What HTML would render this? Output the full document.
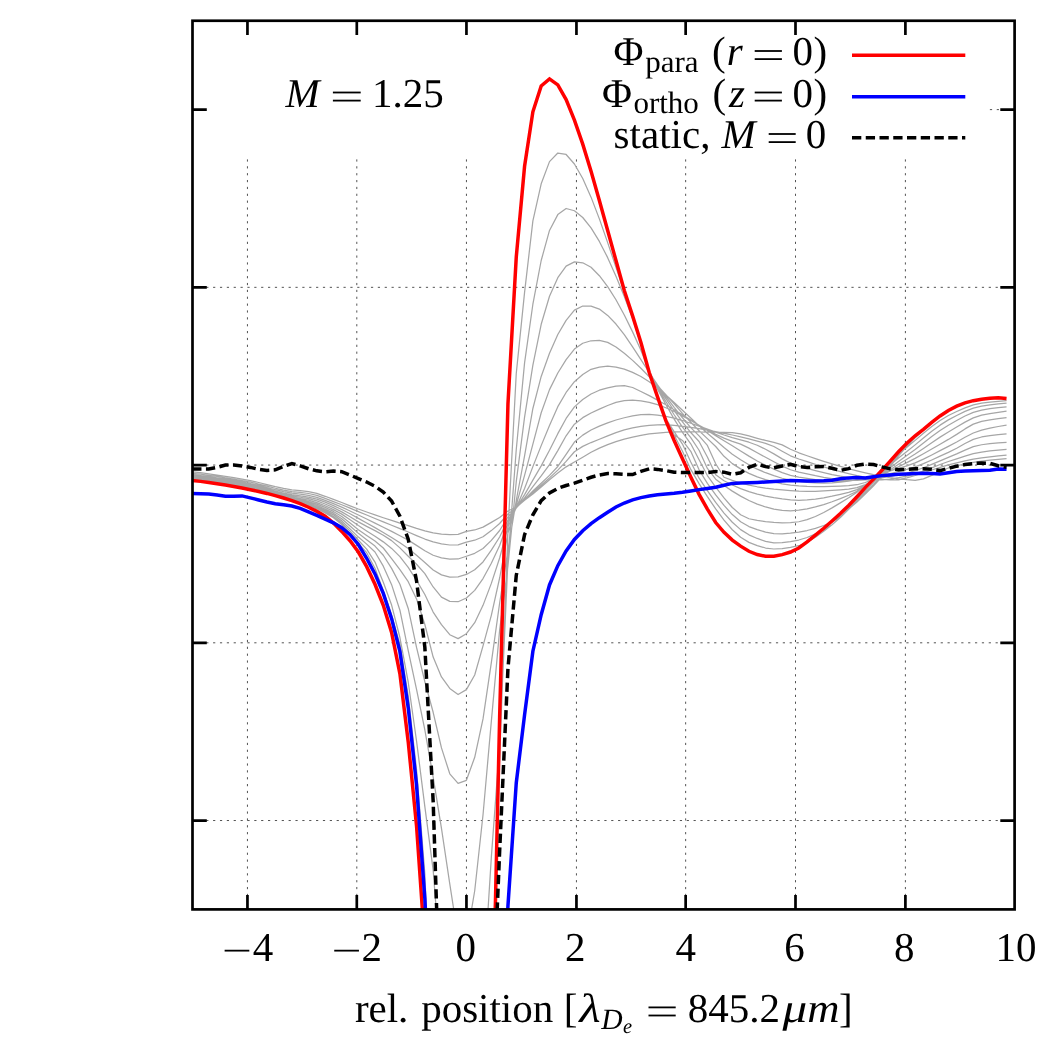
<!DOCTYPE html>
<html><head><meta charset="utf-8"><title>chart</title>
<style>html,body{margin:0;padding:0;background:#fff;width:1037px;height:1037px;overflow:hidden;}svg{display:block;}text{font-family:"Liberation Serif",serif;fill:#000;text-rendering:geometricPrecision;}.i{font-style:italic;}</style></head><body>
<svg style="will-change:transform" width="1037" height="1037" viewBox="0 0 1037 1037">
<rect width="1037" height="1037" fill="#fff"/>
<defs><clipPath id="c"><rect x="192.50" y="20.75" width="822.10" height="888.65"/></clipPath></defs>
<path d="M247.45,159.40 V909.40 M356.80,159.40 V909.40 M466.45,159.40 V909.40 M576.45,159.40 V909.40 M685.65,159.40 V909.40 M795.50,159.40 V909.40 M905.40,159.40 V909.40 M192.50,287.34 H1014.60 M192.50,465.07 H1014.60 M192.50,642.80 H1014.60 M192.50,820.53 H1014.60 M989.9,109.61 H1001" fill="none" stroke="#404040" stroke-width="0.90" stroke-dasharray="2.2 4.664"/>
<g clip-path="url(#c)" fill="none" stroke-linejoin="round">
<path d="M192.17,480.30 L200.48,481.13 L208.79,482.14 L217.10,483.32 L225.41,484.63 L233.72,486.06 L242.03,487.58 L250.34,489.20 L258.65,491.08 L266.96,493.20 L275.27,495.48 L283.58,497.86 L291.89,500.26 L300.20,502.67 L308.51,505.44 L316.82,508.81 L325.13,512.86 L333.44,517.82 L341.75,524.51 L350.06,533.38 L358.37,543.11 L366.68,552.70 L374.99,568.18 L383.30,590.82 L391.61,615.07 L399.92,644.56 L408.23,695.79 L416.54,769.68 L424.85,874.08 L433.16,1075.55 L441.47,1398.67 L449.78,2043.93 L458.09,2499.95 L466.40,2149.01 L474.71,1612.93 L483.02,1301.52 L491.33,998.73 L499.64,760.00 L507.95,531.00 L516.26,373.50 L524.57,292.40 L532.88,220.82 L541.19,183.77 L549.50,161.65 L557.81,153.01 L566.12,154.47 L574.43,164.00 L582.74,178.52 L591.05,197.15 L599.36,218.86 L607.67,242.61 L615.98,267.37 L624.29,292.10 L632.60,317.21 L640.91,344.18 L649.22,372.18 L657.53,389.22 L665.84,404.56 L674.15,419.08 L682.46,432.39 L690.77,443.80 L699.08,459.71 L707.39,475.54 L715.70,487.03 L724.01,497.94 L732.32,507.47 L740.63,514.71 L748.94,518.76 L757.25,520.32 L765.56,521.55 L773.87,522.42 L782.18,522.86 L790.49,522.68 L798.80,521.75 L807.11,519.69 L815.42,516.53 L823.73,512.51 L832.04,507.88 L840.35,502.90 L848.66,497.81 L856.97,492.29 L865.28,485.59 L873.59,478.08 L881.90,470.12 L890.21,462.10 L898.52,454.38 L906.83,447.33 L915.14,440.37 L923.45,433.33 L931.76,426.60 L940.07,420.54 L948.38,415.53 L956.69,411.47 L965.00,407.82 L973.31,404.92 L981.62,403.15 L989.93,402.08 L998.24,401.30 L1006.55,400.60 M192.17,480.09 L200.48,480.92 L208.79,481.94 L217.10,483.11 L225.41,484.42 L233.72,485.85 L242.03,487.37 L250.34,488.99 L258.65,490.88 L266.96,493.02 L275.27,495.31 L283.58,497.66 L291.89,499.97 L300.20,502.21 L308.51,504.74 L316.82,507.91 L325.13,511.73 L333.44,516.42 L341.75,522.72 L350.06,531.08 L358.37,540.22 L366.68,549.18 L374.99,562.06 L383.30,582.29 L391.61,605.08 L399.92,637.51 L408.23,682.22 L416.54,741.03 L424.85,806.67 L433.16,870.07 L441.47,977.02 L449.78,1149.58 L458.09,1339.99 L466.40,1300.00 L474.71,1155.38 L483.02,989.14 L491.33,857.39 L499.64,745.00 L507.95,560.00 L516.26,449.50 L524.57,362.90 L532.88,304.24 L541.19,260.50 L549.50,230.45 L557.81,214.61 L566.12,208.50 L574.43,210.77 L582.74,217.51 L591.05,227.93 L599.36,241.44 L607.67,257.65 L615.98,276.17 L624.29,296.61 L632.60,318.57 L640.91,344.18 L649.22,371.93 L657.53,387.61 L665.84,401.46 L674.15,414.75 L682.46,427.20 L690.77,437.71 L699.08,450.24 L707.39,468.47 L715.70,479.22 L724.01,485.48 L732.32,491.12 L740.63,496.13 L748.94,500.46 L757.25,504.08 L765.56,506.97 L773.87,509.09 L782.18,510.41 L790.49,510.90 L798.80,510.24 L807.11,508.89 L815.42,506.97 L823.73,504.57 L832.04,501.77 L840.35,498.64 L848.66,495.26 L856.97,491.21 L865.28,485.79 L873.59,479.39 L881.90,472.38 L890.21,465.14 L898.52,458.06 L906.83,451.51 L915.14,444.87 L923.45,438.01 L931.76,431.30 L940.07,425.13 L948.38,419.88 L956.69,415.48 L965.00,411.43 L973.31,408.15 L981.62,406.10 L989.93,404.86 L998.24,403.93 L1006.55,403.09 M192.17,479.73 L200.48,480.57 L208.79,481.59 L217.10,482.77 L225.41,484.08 L233.72,485.50 L242.03,487.02 L250.34,488.63 L258.65,490.55 L266.96,492.71 L275.27,495.00 L283.58,497.31 L291.89,499.52 L300.20,501.55 L308.51,503.84 L316.82,506.79 L325.13,510.42 L333.44,514.86 L341.75,520.87 L350.06,528.83 L358.37,537.09 L366.68,544.11 L374.99,552.00 L383.30,566.19 L391.61,584.67 L399.92,610.20 L408.23,650.55 L416.54,689.47 L424.85,729.99 L433.16,777.10 L441.47,828.40 L449.78,883.86 L458.09,937.70 L466.40,940.04 L474.71,890.77 L483.02,814.75 L491.33,721.37 L499.64,630.00 L507.95,566.00 L516.26,481.70 L524.57,417.12 L532.88,365.08 L541.19,324.29 L549.50,296.24 L557.81,277.66 L566.12,266.14 L574.43,261.84 L582.74,262.82 L591.05,267.27 L599.36,275.70 L607.67,286.58 L615.98,299.76 L624.29,314.95 L632.60,331.88 L640.91,350.25 L649.22,371.50 L657.53,386.10 L665.84,398.61 L674.15,410.73 L682.46,421.94 L690.77,432.52 L699.08,441.51 L707.39,457.07 L715.70,474.84 L724.01,480.72 L732.32,484.96 L740.63,488.56 L748.94,491.59 L757.25,494.09 L765.56,496.11 L773.87,497.70 L782.18,498.92 L790.49,499.80 L798.80,500.29 L807.11,499.93 L815.42,499.08 L823.73,497.81 L832.04,496.21 L840.35,494.36 L848.66,492.34 L856.97,489.63 L865.28,485.44 L873.59,480.13 L881.90,474.10 L890.21,467.73 L898.52,461.41 L906.83,455.52 L915.14,449.44 L923.45,443.01 L931.76,436.60 L940.07,430.55 L948.38,425.22 L956.69,420.53 L965.00,416.04 L973.31,412.36 L981.62,410.08 L989.93,408.72 L998.24,407.70 L1006.55,406.79 M192.17,479.23 L200.48,480.08 L208.79,481.11 L217.10,482.28 L225.41,483.59 L233.72,485.01 L242.03,486.52 L250.34,488.14 L258.65,490.06 L266.96,492.24 L275.27,494.53 L283.58,496.79 L291.89,498.89 L300.20,500.71 L308.51,502.76 L316.82,505.51 L325.13,508.98 L333.44,513.18 L341.75,518.73 L350.06,525.93 L358.37,533.35 L366.68,539.72 L374.99,546.10 L383.30,555.24 L391.61,568.38 L399.92,584.22 L408.23,608.48 L416.54,647.39 L424.85,681.75 L433.16,712.28 L441.47,747.89 L449.78,773.80 L458.09,783.30 L466.40,780.33 L474.71,757.32 L483.02,718.95 L491.33,662.57 L499.64,603.00 L507.95,550.00 L516.26,500.50 L524.57,455.92 L532.88,408.48 L541.19,376.44 L549.50,353.23 L557.81,334.51 L566.12,320.37 L574.43,310.14 L582.74,306.02 L591.05,306.12 L599.36,309.05 L607.67,315.42 L615.98,324.03 L624.29,334.71 L632.60,346.80 L640.91,359.63 L649.22,372.53 L657.53,384.82 L665.84,396.28 L674.15,407.29 L682.46,417.74 L690.77,427.62 L699.08,435.90 L707.39,445.46 L715.70,463.76 L724.01,477.26 L732.32,480.41 L740.63,482.99 L748.94,485.09 L757.25,486.76 L765.56,488.08 L773.87,489.10 L782.18,489.91 L790.49,490.56 L798.80,491.12 L807.11,491.40 L815.42,491.27 L823.73,490.95 L832.04,490.48 L840.35,489.86 L848.66,489.13 L856.97,487.68 L865.28,484.63 L873.59,480.35 L881.90,475.27 L890.21,469.80 L898.52,464.33 L906.83,459.26 L915.14,454.03 L923.45,448.42 L931.76,442.69 L940.07,437.11 L948.38,431.94 L956.69,427.03 L965.00,422.09 L973.31,417.90 L981.62,415.21 L989.93,413.56 L998.24,412.31 L1006.55,411.19 M192.17,478.59 L200.48,479.45 L208.79,480.48 L217.10,481.66 L225.41,482.97 L233.72,484.38 L242.03,485.89 L250.34,487.50 L258.65,489.43 L266.96,491.62 L275.27,493.90 L283.58,496.11 L291.89,498.09 L300.20,499.72 L308.51,501.53 L316.82,504.09 L325.13,507.42 L333.44,511.42 L341.75,516.51 L350.06,522.99 L358.37,529.67 L366.68,535.49 L374.99,541.09 L383.30,548.00 L391.61,558.54 L399.92,569.71 L408.23,581.67 L416.54,598.91 L424.85,624.51 L433.16,657.09 L441.47,676.95 L449.78,688.38 L458.09,694.50 L466.40,689.61 L474.71,674.98 L483.02,645.93 L491.33,615.29 L499.64,578.00 L507.95,533.00 L516.26,505.00 L524.57,475.32 L532.88,444.15 L541.19,412.72 L549.50,389.65 L557.81,373.00 L566.12,359.55 L574.43,349.05 L582.74,343.26 L591.05,340.76 L599.36,340.32 L607.67,342.40 L615.98,347.02 L624.29,353.28 L632.60,360.38 L640.91,368.27 L649.22,376.77 L657.53,385.66 L665.84,394.75 L674.15,403.84 L682.46,413.30 L690.77,422.29 L699.08,430.80 L707.39,438.63 L715.70,446.52 L724.01,456.30 L732.32,463.62 L740.63,468.90 L748.94,473.33 L757.25,476.91 L765.56,479.66 L773.87,481.91 L782.18,483.81 L790.49,485.19 L798.80,485.94 L807.11,486.44 L815.42,486.60 L823.73,486.51 L832.04,486.32 L840.35,486.03 L848.66,485.66 L856.97,484.73 L865.28,482.49 L873.59,479.24 L881.90,475.31 L890.21,471.02 L898.52,466.69 L906.83,462.62 L915.14,458.40 L923.45,453.82 L931.76,449.04 L940.07,444.18 L948.38,439.41 L956.69,434.39 L965.00,428.91 L973.31,424.15 L981.62,421.33 L989.93,419.77 L998.24,418.62 L1006.55,417.59 M192.17,477.81 L200.48,478.68 L208.79,479.72 L217.10,480.90 L225.41,482.20 L233.72,483.61 L242.03,485.11 L250.34,486.71 L258.65,488.66 L266.96,490.85 L275.27,493.11 L283.58,495.26 L291.89,497.12 L300.20,498.56 L308.51,500.16 L316.82,502.56 L325.13,505.78 L333.44,509.58 L341.75,514.13 L350.06,519.69 L358.37,525.50 L366.68,530.92 L374.99,536.21 L383.30,541.86 L391.61,548.41 L399.92,556.65 L408.23,567.44 L416.54,580.37 L424.85,594.50 L433.16,612.04 L441.47,624.65 L449.78,634.72 L458.09,638.60 L466.40,633.72 L474.71,622.71 L483.02,605.35 L491.33,583.40 L499.64,558.00 L507.95,527.00 L516.26,507.50 L524.57,488.45 L532.88,466.65 L541.19,445.61 L549.50,425.48 L557.81,406.63 L566.12,392.48 L574.43,381.68 L582.74,374.50 L591.05,369.30 L599.36,367.15 L607.67,366.22 L615.98,367.06 L624.29,369.12 L632.60,372.32 L640.91,376.49 L649.22,381.67 L657.53,387.94 L665.84,395.01 L674.15,402.56 L682.46,410.30 L690.77,417.93 L699.08,425.86 L707.39,433.24 L715.70,440.19 L724.01,447.43 L732.32,454.15 L740.63,459.77 L748.94,464.84 L757.25,469.20 L765.56,472.71 L773.87,475.68 L782.18,478.26 L790.49,480.22 L798.80,481.39 L807.11,482.29 L815.42,482.94 L823.73,483.20 L832.04,482.95 L840.35,482.22 L848.66,481.06 L856.97,479.53 L865.28,477.69 L873.59,475.60 L881.90,473.33 L890.21,470.92 L898.52,468.45 L906.83,465.96 L915.14,462.89 L923.45,459.15 L931.76,454.97 L940.07,450.64 L948.38,446.39 L956.69,442.06 L965.00,437.31 L973.31,433.02 L981.62,430.05 L989.93,428.07 L998.24,426.49 L1006.55,425.09 M192.17,476.89 L200.48,477.78 L208.79,478.82 L217.10,480.00 L225.41,481.30 L233.72,482.71 L242.03,484.19 L250.34,485.79 L258.65,487.73 L266.96,489.92 L275.27,492.16 L283.58,494.24 L291.89,495.98 L300.20,497.25 L308.51,498.66 L316.82,500.91 L325.13,504.03 L333.44,507.66 L341.75,511.84 L350.06,516.80 L358.37,521.86 L366.68,526.40 L374.99,530.65 L383.30,535.19 L391.61,540.62 L399.92,547.89 L408.23,556.27 L416.54,564.26 L424.85,573.61 L433.16,586.97 L441.47,597.15 L449.78,601.38 L458.09,601.73 L466.40,598.04 L474.71,590.34 L483.02,578.57 L491.33,563.29 L499.64,545.50 L507.95,523.00 L516.26,508.00 L524.57,494.66 L532.88,480.07 L541.19,465.84 L549.50,450.23 L557.81,433.67 L566.12,418.44 L574.43,406.85 L582.74,399.58 L591.05,393.95 L599.36,390.20 L607.67,387.79 L615.98,386.02 L624.29,385.59 L632.60,387.51 L640.91,391.44 L649.22,395.61 L657.53,400.09 L665.84,404.81 L674.15,409.73 L682.46,414.81 L690.77,419.98 L699.08,425.21 L707.39,430.44 L715.70,435.63 L724.01,440.71 L732.32,445.70 L740.63,450.91 L748.94,456.14 L757.25,461.05 L765.56,465.26 L773.87,469.07 L782.18,472.59 L790.49,475.37 L798.80,477.08 L807.11,478.44 L815.42,479.62 L823.73,480.53 L832.04,481.08 L840.35,481.18 L848.66,480.78 L856.97,479.94 L865.28,478.73 L873.59,477.20 L881.90,475.44 L890.21,473.52 L898.52,471.50 L906.83,469.44 L915.14,466.85 L923.45,463.62 L931.76,459.97 L940.07,456.13 L948.38,452.32 L956.69,448.24 L965.00,443.56 L973.31,439.43 L981.62,436.98 L989.93,435.65 L998.24,434.67 L1006.55,433.79 M192.17,475.82 L200.48,476.73 L208.79,477.78 L217.10,478.96 L225.41,480.26 L233.72,481.66 L242.03,483.13 L250.34,484.72 L258.65,486.65 L266.96,488.83 L275.27,491.03 L283.58,493.05 L291.89,494.67 L300.20,495.80 L308.51,497.05 L316.82,499.17 L325.13,502.20 L333.44,505.69 L341.75,509.46 L350.06,513.80 L358.37,518.39 L366.68,523.00 L374.99,527.66 L383.30,532.44 L391.61,537.46 L399.92,542.80 L408.23,548.55 L416.54,555.30 L424.85,562.46 L433.16,569.92 L441.47,574.88 L449.78,577.18 L458.09,576.96 L466.40,574.46 L474.71,569.73 L483.02,561.92 L491.33,550.16 L499.64,537.00 L507.95,520.00 L516.26,508.00 L524.57,497.90 L532.88,486.74 L541.19,475.99 L549.50,464.57 L557.81,450.57 L566.12,435.77 L574.43,424.14 L582.74,417.65 L591.05,412.99 L599.36,409.18 L607.67,405.47 L615.98,402.31 L624.29,400.73 L632.60,400.05 L640.91,400.95 L649.22,402.33 L657.53,404.59 L665.84,407.73 L674.15,411.55 L682.46,415.87 L690.77,420.49 L699.08,425.23 L707.39,429.88 L715.70,434.26 L724.01,438.17 L732.32,441.40 L740.63,444.13 L748.94,448.12 L757.25,452.81 L765.56,457.28 L773.87,461.70 L782.18,466.12 L790.49,469.77 L798.80,472.08 L807.11,473.98 L815.42,475.73 L823.73,477.27 L832.04,478.56 L840.35,479.52 L848.66,480.12 L856.97,480.30 L865.28,479.94 L873.59,479.10 L881.90,477.88 L890.21,476.38 L898.52,474.72 L906.83,472.99 L915.14,470.69 L923.45,467.72 L931.76,464.35 L940.07,460.83 L948.38,457.43 L956.69,453.94 L965.00,450.07 L973.31,446.70 L981.62,444.75 L989.93,443.72 L998.24,442.97 L1006.55,442.30 M192.17,474.61 L200.48,475.54 L208.79,476.60 L217.10,477.79 L225.41,479.08 L233.72,480.47 L242.03,481.94 L250.34,483.50 L258.65,485.42 L266.96,487.57 L275.27,489.73 L283.58,491.68 L291.89,493.20 L300.20,494.21 L308.51,495.33 L316.82,497.33 L325.13,500.31 L333.44,503.66 L341.75,507.13 L350.06,511.00 L358.37,515.02 L366.68,519.02 L374.99,523.08 L383.30,527.21 L391.61,531.42 L399.92,535.69 L408.23,540.11 L416.54,545.37 L424.85,550.79 L433.16,555.27 L441.47,557.79 L449.78,559.07 L458.09,558.99 L466.40,556.22 L474.71,553.32 L483.02,548.52 L491.33,540.41 L499.64,530.50 L507.95,517.00 L516.26,507.80 L524.57,499.48 L532.88,490.98 L541.19,483.25 L549.50,475.38 L557.81,466.47 L566.12,454.41 L574.43,442.10 L582.74,435.12 L591.05,430.01 L599.36,426.07 L607.67,422.80 L615.98,420.01 L624.29,417.74 L632.60,415.98 L640.91,414.52 L649.22,414.32 L657.53,415.19 L665.84,416.40 L674.15,418.22 L682.46,420.53 L690.77,423.22 L699.08,426.14 L707.39,429.17 L715.70,432.17 L724.01,435.02 L732.32,437.57 L740.63,439.84 L748.94,442.22 L757.25,445.25 L765.56,449.28 L773.87,453.91 L782.18,458.87 L790.49,463.16 L798.80,465.96 L807.11,468.31 L815.42,470.55 L823.73,472.63 L832.04,474.53 L840.35,476.20 L848.66,477.62 L856.97,478.74 L865.28,479.52 L873.59,479.94 L881.90,479.89 L890.21,479.05 L898.52,477.68 L906.83,476.12 L915.14,473.95 L923.45,471.06 L931.76,467.81 L940.07,464.52 L948.38,461.52 L956.69,458.81 L965.00,456.06 L973.31,453.68 L981.62,452.05 L989.93,450.98 L998.24,450.14 L1006.55,449.40 M192.17,473.26 L200.48,474.21 L208.79,475.29 L217.10,476.48 L225.41,477.77 L233.72,479.14 L242.03,480.59 L250.34,482.14 L258.65,484.04 L266.96,486.15 L275.27,488.25 L283.58,490.13 L291.89,491.56 L300.20,492.48 L308.51,493.50 L316.82,495.42 L325.13,498.35 L333.44,501.58 L341.75,504.76 L350.06,508.18 L358.37,511.63 L366.68,515.03 L374.99,518.47 L383.30,521.90 L391.61,525.29 L399.92,528.60 L408.23,531.98 L416.54,535.59 L424.85,539.04 L433.16,541.93 L441.47,543.88 L449.78,545.00 L458.09,544.79 L466.40,542.11 L474.71,540.23 L483.02,536.76 L491.33,530.62 L499.64,523.50 L507.95,514.00 L516.26,507.60 L524.57,500.03 L532.88,492.54 L541.19,485.24 L549.50,477.85 L557.81,470.12 L566.12,461.44 L574.43,451.78 L582.74,446.36 L591.05,442.55 L599.36,439.26 L607.67,435.85 L615.98,432.60 L624.29,429.83 L632.60,427.86 L640.91,426.33 L649.22,425.35 L657.53,424.88 L665.84,424.71 L674.15,425.32 L682.46,426.28 L690.77,427.36 L699.08,428.64 L707.39,430.08 L715.70,431.64 L724.01,433.28 L732.32,434.99 L740.63,436.89 L748.94,438.98 L757.25,441.16 L765.56,443.34 L773.87,446.48 L782.18,451.18 L790.49,455.82 L798.80,458.99 L807.11,461.70 L815.42,464.36 L823.73,466.92 L832.04,469.36 L840.35,471.63 L848.66,473.71 L856.97,475.55 L865.28,477.12 L873.59,478.38 L881.90,479.31 L890.21,479.86 L898.52,479.90 L906.83,477.84 L915.14,475.50 L923.45,472.83 L931.76,470.03 L940.07,467.33 L948.38,464.92 L956.69,462.82 L965.00,460.84 L973.31,459.10 L981.62,457.78 L989.93,456.77 L998.24,455.94 L1006.55,455.20 M192.17,471.76 L200.48,472.74 L208.79,473.83 L217.10,475.03 L225.41,476.31 L233.72,477.68 L242.03,479.11 L250.34,480.64 L258.65,482.50 L266.96,484.55 L275.27,486.59 L283.58,488.40 L291.89,489.76 L300.20,490.61 L308.51,491.57 L316.82,493.42 L325.13,496.29 L333.44,499.44 L341.75,502.51 L350.06,505.80 L358.37,509.00 L366.68,511.99 L374.99,514.91 L383.30,517.74 L391.61,520.46 L399.92,523.05 L408.23,525.68 L416.54,528.41 L424.85,530.92 L433.16,532.93 L441.47,534.16 L449.78,534.59 L458.09,534.39 L466.40,531.46 L474.71,529.97 L483.02,527.16 L491.33,522.40 L499.64,517.50 L507.95,511.00 L516.26,507.30 L524.57,500.31 L532.88,493.90 L541.19,486.93 L549.50,479.81 L557.81,472.98 L566.12,466.86 L574.43,461.93 L582.74,457.17 L591.05,452.30 L599.36,448.08 L607.67,444.66 L615.98,441.62 L624.29,439.04 L632.60,437.02 L640.91,435.31 L649.22,433.95 L657.53,433.08 L665.84,432.39 L674.15,431.91 L682.46,431.80 L690.77,431.88 L699.08,431.99 L707.39,432.10 L715.70,432.23 L724.01,432.41 L732.32,432.74 L740.63,433.96 L748.94,435.97 L757.25,438.28 L765.56,440.43 L773.87,442.30 L782.18,444.84 L790.49,449.25 L798.80,452.80 L807.11,455.75 L815.42,458.60 L823.73,461.34 L832.04,463.96 L840.35,466.44 L848.66,468.77 L856.97,470.94 L865.28,472.93 L873.59,474.73 L881.90,476.32 L890.21,477.69 L898.52,478.84 L906.83,479.74 L915.14,480.30 L923.45,478.83 L931.76,475.40 L940.07,471.34 L948.38,467.97 L956.69,465.81 L965.00,463.91 L973.31,462.32 L981.62,461.09 L989.93,460.15 L998.24,459.38 L1006.55,458.70 M657.53,396.89 L665.84,419.45 L674.15,435.00 L682.46,451.29 L690.77,469.39 L699.08,483.62 L707.39,496.61 L715.70,508.93 L724.01,520.13 L732.32,529.73 L740.63,537.30 L748.94,542.36 L757.25,545.56 L765.56,548.02 L773.87,549.00 L782.18,548.53 L790.49,547.38 L798.80,545.71 L807.11,542.24 L815.42,537.20 L823.73,531.23 L832.04,524.87 L840.35,516.79 L848.66,507.88 L856.97,499.45 L865.28,491.01 L873.59,482.39 L881.90,473.38 L890.21,463.45 L898.52,453.44 L906.83,444.59 L915.14,436.60 L923.45,429.03 L931.76,422.04 L940.07,415.79 M665.84,418.80 L674.15,431.57 L682.46,444.11 L690.77,461.92 L699.08,478.19 L707.39,490.68 L715.70,502.42 L724.01,513.05 L732.32,522.22 L740.63,529.60 L748.94,534.81 L757.25,538.45 L765.56,541.43 L773.87,542.94 L782.18,542.67 L790.49,541.55 L798.80,540.02 L807.11,537.49 L815.42,533.94 L823.73,529.63 L832.04,524.67 L840.35,517.55 L848.66,509.29 L856.97,501.29 L865.28,493.04 L873.59,484.43 L881.90,475.35 L890.21,465.14 L898.52,454.72 L906.83,445.55 L915.14,437.29 L923.45,429.46 L931.76,422.26 L940.07,415.86 M665.84,421.32 L674.15,434.88 L682.46,440.40 L690.77,451.33 L699.08,469.81 L707.39,483.33 L715.70,494.86 L724.01,505.44 L732.32,514.57 L740.63,521.78 L748.94,526.58 L757.25,529.58 L765.56,532.06 L773.87,533.64 L782.18,533.95 L790.49,533.22 L798.80,532.13 L807.11,530.52 L815.42,528.30 L823.73,525.50 L832.04,522.02 L840.35,516.25 L848.66,509.13 L856.97,501.94 L865.28,494.16 L873.59,485.81 L881.90,476.87 L890.21,466.52 L898.52,455.76 L906.83,446.32 L915.14,437.85 L923.45,429.82 L931.76,422.43 L940.07,415.91" stroke="#a6a6a6" stroke-width="1.25"/>
<path d="M192.17,480.47 L200.48,481.37 L208.79,482.45 L217.10,483.67 L225.41,485.03 L233.72,486.49 L242.03,488.05 L250.34,489.69 L258.65,491.47 L266.96,493.43 L275.27,495.60 L283.58,498.01 L291.89,500.69 L300.20,503.72 L308.51,507.23 L316.82,511.38 L325.13,516.28 L333.44,523.07 L341.75,531.40 L350.06,540.72 L358.37,552.06 L366.68,566.67 L374.99,584.26 L383.30,605.31 L391.61,632.48 L399.92,673.85 L408.23,741.94 L416.54,825.88 L424.85,945.00 L433.16,1099.02 L441.47,1398.56 L449.78,1998.18 L458.09,3007.23 L466.40,3500.00 L474.71,2999.20 L483.02,1997.70 L491.33,1083.11 L499.64,717.37 L507.95,404.00 L516.26,257.04 L524.57,166.25 L532.88,111.78 L541.19,85.91 L549.50,78.90 L557.81,84.91 L566.12,99.54 L574.43,120.08 L582.74,144.12 L591.05,171.30 L599.36,200.43 L607.67,230.44 L615.98,260.55 L624.29,290.56 L632.60,315.89 L640.91,342.59 L649.22,372.49 L657.53,396.89 L665.84,420.65 L674.15,440.51 L682.46,458.83 L690.77,477.00 L699.08,494.36 L707.39,509.12 L715.70,522.53 L724.01,532.29 L732.32,540.06 L740.63,546.14 L748.94,551.30 L757.25,554.51 L765.56,556.28 L773.87,556.31 L782.18,554.59 L790.49,552.04 L798.80,548.03 L807.11,541.88 L815.42,535.11 L823.73,528.25 L832.04,520.99 L840.35,513.43 L848.66,505.44 L856.97,496.71 L865.28,487.63 L873.59,479.13 L881.90,470.32 L890.21,461.07 L898.52,451.78 L906.83,443.22 L915.14,435.78 L923.45,429.28 L931.76,422.34 L940.07,415.93 L948.38,410.48 L956.69,406.22 L965.00,402.93 L973.31,400.67 L981.62,399.22 L989.93,398.29 L998.24,397.82 L1006.55,398.51" stroke="#ff0000" stroke-width="3.50" stroke-linejoin="miter"/>
<path d="M192.17,493.60 L200.48,493.71 L208.79,493.98 L217.10,494.93 L225.41,496.15 L233.72,496.17 L242.03,495.90 L250.34,497.88 L258.65,499.95 L266.96,501.96 L275.27,503.67 L283.58,504.84 L291.89,506.06 L300.20,508.39 L308.51,511.85 L316.82,515.32 L325.13,519.06 L333.44,522.86 L341.75,527.68 L350.06,534.72 L358.37,544.48 L366.68,558.29 L374.99,573.89 L383.30,593.41 L391.61,618.65 L399.92,651.68 L408.23,707.65 L416.54,785.00 L424.85,898.38 L433.16,1060.26 M499.64,1058.99 L507.95,905.83 L516.26,782.94 L524.57,714.88 L532.88,651.21 L541.19,614.73 L549.50,584.94 L557.81,565.66 L566.12,550.92 L574.43,539.48 L582.74,530.73 L591.05,523.61 L599.36,517.68 L607.67,512.27 L615.98,507.04 L624.29,503.00 L632.60,499.90 L640.91,497.63 L649.22,495.96 L657.53,494.73 L665.84,493.89 L674.15,493.15 L682.46,492.19 L690.77,490.93 L699.08,489.63 L707.39,488.45 L715.70,487.19 L724.01,485.27 L732.32,483.38 L740.63,482.96 L748.94,482.74 L757.25,482.46 L765.56,482.02 L773.87,481.51 L782.18,480.89 L790.49,480.40 L798.80,480.70 L807.11,481.00 L815.42,480.90 L823.73,480.65 L832.04,480.20 L840.35,478.72 L848.66,477.88 L856.97,477.53 L865.28,477.89 L873.59,476.72 L881.90,475.62 L890.21,474.93 L898.52,474.37 L906.83,473.93 L915.14,473.52 L923.45,473.24 L931.76,473.46 L940.07,473.99 L948.38,472.77 L956.69,471.53 L965.00,471.09 L973.31,470.78 L981.62,470.46 L989.93,470.13 L998.24,469.08 L1006.55,469.20" stroke="#0000ff" stroke-width="3.50" stroke-linejoin="miter"/>
<path d="M192.17,468.90 L200.48,468.90 L208.79,468.90 L217.10,467.40 L225.41,465.01 L233.72,464.96 L242.03,466.08 L250.34,467.42 L258.65,469.36 L266.96,470.50 L275.27,469.85 L283.58,466.43 L291.89,463.51 L300.20,465.88 L308.51,468.73 L316.82,470.83 L325.13,471.80 L333.44,471.06 L341.75,471.68 L350.06,475.01 L358.37,478.57 L366.68,482.00 L374.99,486.24 L383.30,492.08 L391.61,501.12 L399.92,516.25 L408.23,539.23 L416.54,580.82 L424.85,647.31 L433.16,801.11 L441.47,1058.83 L449.78,1498.67" stroke="#000" stroke-width="3.50" stroke-dasharray="9.3 4.45" stroke-dashoffset="0" stroke-linejoin="miter"/>
<path d="M491.33,1049.03 L499.64,851.22 L507.95,668.47 L516.26,575.38 L524.57,534.68 L532.88,514.83 L541.19,500.65 L549.50,493.01 L557.81,488.38 L566.12,485.49 L574.43,483.13 L582.74,480.20 L591.05,477.25 L599.36,474.97 L607.67,473.52 L615.98,473.77 L624.29,474.34 L632.60,474.55 L640.91,471.36 L649.22,468.80 L657.53,469.38 L665.84,470.59 L674.15,472.25 L682.46,472.52 L690.77,472.60 L699.08,472.60 L707.39,472.55 L715.70,471.48 L724.01,472.15 L732.32,474.29 L740.63,472.74 L748.94,467.44 L757.25,464.23 L765.56,466.64 L773.87,467.70 L782.18,465.97 L790.49,464.41 L798.80,466.68 L807.11,467.39 L815.42,466.85 L823.73,466.50 L832.04,468.26 L840.35,470.37 L848.66,468.62 L856.97,465.29 L865.28,463.95 L873.59,464.55 L881.90,466.84 L890.21,468.85 L898.52,469.70 L906.83,469.28 L915.14,468.74 L923.45,468.79 L931.76,469.19 L940.07,470.59 L948.38,468.33 L956.69,466.18 L965.00,464.58 L973.31,463.50 L981.62,463.11 L989.93,463.33 L998.24,465.76 L1006.55,467.32" stroke="#000" stroke-width="3.50" stroke-dasharray="9.3 4.45" stroke-dashoffset="0" stroke-linejoin="miter"/>
</g>
<rect x="192.50" y="20.75" width="822.10" height="888.65" fill="none" stroke="#000" stroke-width="2.70"/>
<path d="M247.45,909.40 v-14.30 M247.45,20.75 v14.30 M356.80,909.40 v-14.30 M356.80,20.75 v14.30 M466.45,909.40 v-14.30 M466.45,20.75 v14.30 M576.45,909.40 v-14.30 M576.45,20.75 v14.30 M685.65,909.40 v-14.30 M685.65,20.75 v14.30 M795.50,909.40 v-14.30 M795.50,20.75 v14.30 M905.40,909.40 v-14.30 M905.40,20.75 v14.30 M192.50,109.61 h14.30 M1014.60,109.61 h-14.30 M192.50,287.34 h14.30 M1014.60,287.34 h-14.30 M192.50,465.07 h14.30 M1014.60,465.07 h-14.30 M192.50,642.80 h14.30 M1014.60,642.80 h-14.30 M192.50,820.53 h14.30 M1014.60,820.53 h-14.30" fill="none" stroke="#000" stroke-width="2.70"/>
<text x="252.82" y="961.00" font-size="41.00">4</text>
<text x="361.43" y="961.00" font-size="41.00">2</text>
<text x="455.59" y="961.00" font-size="41.00">0</text>
<text x="564.96" y="961.00" font-size="41.00">2</text>
<text x="675.58" y="961.00" font-size="41.00">4</text>
<text x="784.23" y="961.00" font-size="41.00">6</text>
<text x="894.04" y="961.00" font-size="41.00">8</text>
<text x="995.50" y="961.00" font-size="41.00">10</text>
<text x="354.88" y="1021.80" font-size="41.00">rel.</text>
<text x="421.14" y="1021.80" font-size="41.00">position</text>
<text x="563.86" y="1021.80" font-size="41.00">[</text>
<text transform="translate(579.30,1021.80) scale(1.200,1)" font-size="41.00" class="i">λ</text>
<text x="601.23" y="1028.60" font-size="29.60" class="i">D</text>
<text x="622.97" y="1032.80" font-size="20.50" class="i">e</text>
<text x="687.64" y="1021.80" font-size="41.00">845.2</text>
<text transform="translate(782.55,1021.80) scale(1.200,1)" font-size="41.00" class="i">μ</text>
<text transform="translate(807.19,1021.80) scale(1.090,1)" font-size="41.00" class="i">m</text>
<text x="838.92" y="1021.80" font-size="41.00">]</text>
<text x="285.48" y="106.90" font-size="41.00" class="i">M</text>
<text x="372.10" y="106.90" font-size="41.00">1.25</text>
<text x="613.56" y="65.40" font-size="41.00">Φ</text>
<text x="645.20" y="71.50" font-size="31.00">para</text>
<text x="712.10" y="65.40" font-size="41.00">(</text>
<text x="726.64" y="65.40" font-size="41.00" class="i">r</text>
<text x="792.44" y="65.40" font-size="41.00">0</text>
<text x="813.58" y="65.40" font-size="41.00">)</text>
<text x="602.06" y="106.90" font-size="41.00">Φ</text>
<text x="633.42" y="113.00" font-size="31.00">ortho</text>
<text x="712.50" y="106.90" font-size="41.00">(</text>
<text x="729.06" y="106.90" font-size="41.00" class="i">z</text>
<text x="792.44" y="106.90" font-size="41.00">0</text>
<text x="813.58" y="106.90" font-size="41.00">)</text>
<text x="613.62" y="148.40" font-size="41.00">static,</text>
<text x="721.38" y="148.40" font-size="41.00" class="i">M</text>
<text x="805.74" y="148.40" font-size="41.00">0</text>
<rect x="224.62" y="949.75" width="24.70" height="1.80" fill="#000"/>
<rect x="334.24" y="949.75" width="24.70" height="1.80" fill="#000"/>
<rect x="648.50" y="1006.50" width="27.20" height="1.80" fill="#000"/>
<rect x="648.50" y="1014.60" width="27.20" height="1.80" fill="#000"/>
<rect x="332.90" y="91.60" width="27.80" height="1.80" fill="#000"/>
<rect x="332.90" y="99.70" width="27.80" height="1.80" fill="#000"/>
<rect x="754.70" y="50.10" width="27.20" height="1.80" fill="#000"/>
<rect x="754.70" y="58.20" width="27.20" height="1.80" fill="#000"/>
<rect x="754.70" y="91.60" width="27.20" height="1.80" fill="#000"/>
<rect x="754.70" y="99.70" width="27.20" height="1.80" fill="#000"/>
<rect x="768.70" y="133.10" width="27.00" height="1.80" fill="#000"/>
<rect x="768.70" y="141.20" width="27.00" height="1.80" fill="#000"/>
<path d="M852.00,55.20 H965.30" stroke="#ff0000" stroke-width="3.50"/>
<path d="M852.00,96.65 H965.30" stroke="#0000ff" stroke-width="3.50"/>
<path d="M852.00,137.80 H965.30" stroke="#000" stroke-width="3.50" stroke-dasharray="9.3 4.45"/>
</svg></body></html>
